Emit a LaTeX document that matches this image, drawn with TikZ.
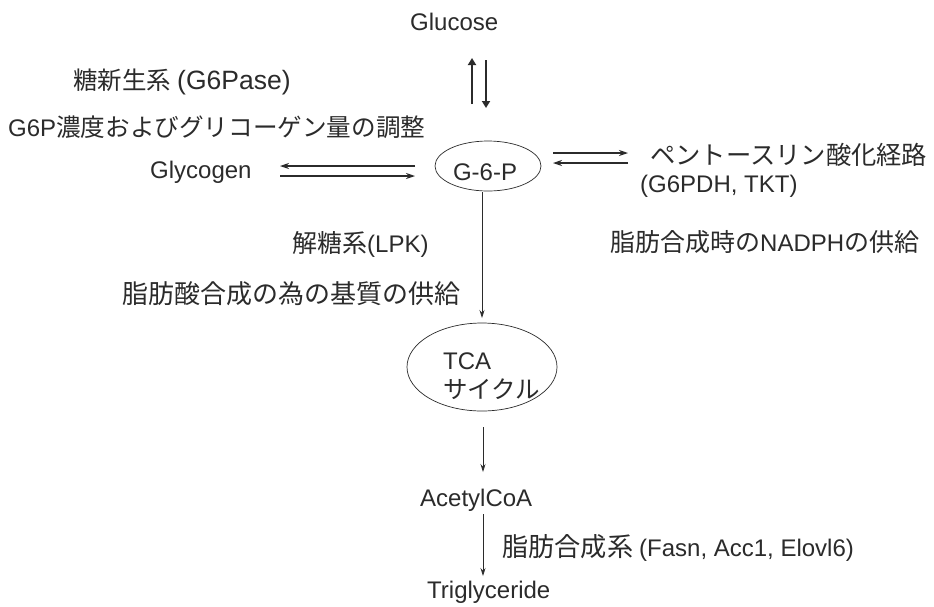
\documentclass[tikz,border=0pt]{standalone}
\usepackage{fontspec}
\setmainfont{Liberation Sans}
\newfontfamily\cjk{Noto Sans CJK JP}
\usetikzlibrary{arrows.meta,shapes.geometric}
\newcommand\jpt[2][25]{{\cjk\fontsize{#1}{#1}\selectfont #2}}
\definecolor{ink}{gray}{0.17}
\begin{document}
\begin{tikzpicture}[x=1pt,y=-1pt,
  lbl/.style={anchor=west,inner sep=0pt,text=ink,font=\fontsize{24}{28}\selectfont},
  ell/.style={draw=ink,ellipse,line width=0.7pt,inner sep=0pt},
  arr/.style={draw=ink,line width=0.8pt,-{Stealth[length=8pt,width=5pt]}},
  harr/.style={draw=ink,line width=1.2pt,-{Stealth[length=9pt,width=6pt]}},
  fat/.style={draw=ink,line width=2.6pt,-{Triangle[length=7pt,width=8pt]}}]
\useasboundingbox (0,0) rectangle (934,606);
\fill[white] (0,0) rectangle (934,606);

% texts
\node[lbl] (glucose) at (410,22) {Glucose};
\node[lbl] (gluconeo) at (73,82) {\jpt[24.5]{糖新生系}\hspace{6pt}{\fontsize{26.5}{28}\selectfont(G6Pase)}};
\node[lbl] (g6preg) at (8,127) {G6P\jpt[24.6]{濃度およびグリコーゲン量の調整}};
\node[lbl] (glycogen) at (150,172) {Glycogen};
\node[lbl] (pentose) at (650,155) {\jpt[25.3]{ペントースリン酸化経路}};
\node[lbl] (pentenz) at (640,186) {(G6PDH, TKT)};
\node[lbl] (glycol) at (292,244) {\jpt{解糖系}(LPK)};
\node[lbl] (nadph) at (610,242) {\jpt{脂肪合成時の}NADPH\jpt{の供給}};
\node[lbl] (substr) at (122,294) {\jpt[26]{脂肪酸合成の為の基質の供給}};
\node[lbl] (acoa) at (420,500) {AcetylCoA};
\node[lbl] (fasyn) at (502,548) {\jpt[26.2]{脂肪合成系}\hspace{6pt}{\fontsize{24}{28}\selectfont(Fasn, Acc1, Elovl6)}};
\node[lbl] (tg) at (427,592) {Triglyceride};

% ellipses
\node[ell,minimum width=106pt,minimum height=50pt] (g6p) at (488,166) {};
\node[lbl,anchor=center] (g6ptxt) at (485,172) {G-6-P};
\node[ell,minimum width=150pt,minimum height=88pt] (tca) at (482,367) {};
\node[lbl] (tcatxt) at (443,361) {TCA};
\node[lbl] (cycle) at (443,389) {\jpt[24.5]{サイクル}};

% coordinates
\coordinate (gu1) at (472,104);
\coordinate (gu2) at (472,58);
\coordinate (gd1) at (486,60);
\coordinate (gd2) at (486,108);
\coordinate (gl1) at (415,166);
\coordinate (gl2) at (280,166);
\coordinate (gr1) at (280,176);
\coordinate (gr2) at (415,176);
\coordinate (pr1) at (553,153);
\coordinate (pr2) at (628,153);
\coordinate (pl1) at (628,163);
\coordinate (pl2) at (553,163);
\coordinate (v1) at (482,192);
\coordinate (v2) at (482,318);
\coordinate (t1) at (483,427);
\coordinate (t2) at (483,472);
\coordinate (a1) at (483,514);
\coordinate (a2) at (483,576);

% arrows
\draw[fat] (gu1) -- (gu2);
\draw[fat] (gd1) -- (gd2);
\draw[harr] (gl1) -- (gl2);
\draw[harr] (gr1) -- (gr2);
\draw[harr] (pr1) -- (pr2);
\draw[harr] (pl1) -- (pl2);
\draw[arr] (v1) -- (v2);
\draw[arr] (t1) -- (t2);
\draw[arr] (a1) -- (a2);
\end{tikzpicture}
\end{document}
